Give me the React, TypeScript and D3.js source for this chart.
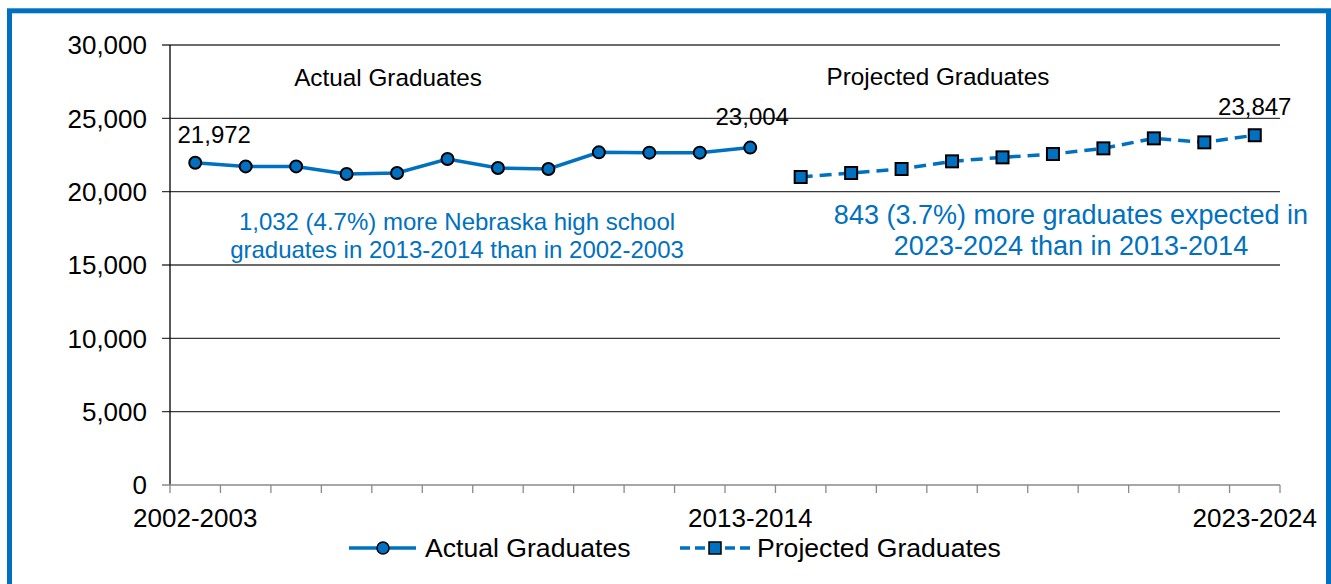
import React from "react";
import * as d3 from "d3";

const categories = [
  "2002-2003", "2003-2004", "2004-2005", "2005-2006", "2006-2007", "2007-2008",
  "2008-2009", "2009-2010", "2010-2011", "2011-2012", "2012-2013", "2013-2014",
  "2014-2015", "2015-2016", "2016-2017", "2017-2018", "2018-2019", "2019-2020",
  "2020-2021", "2021-2022", "2022-2023", "2023-2024",
];
const actualValues = [21972, 21722, 21722, 21204, 21272, 22226, 21613, 21545, 22680, 22660, 22660, 23004];
const projectedValues = [21000, 21272, 21545, 22068, 22340, 22567, 22953, 23635, 23362, 23847];
const yTicks = [0, 5000, 10000, 15000, 20000, 25000, 30000];
const xLabelCats = ["2002-2003", "2013-2014", "2023-2024"];
const labeledPoints = ["2002-2003", "2013-2014", "2023-2024"];
const leftNote = ["1,032 (4.7%) more Nebraska high school", "graduates in 2013-2014 than in 2002-2003"];
const rightNote = ["843 (3.7%) more graduates expected in", "2023-2024 than in 2013-2014"];

const BLUE = "#0070C0";
const FONT = "'Liberation Sans', Arial, sans-serif";

export default function App() {
  const W = 1331, H = 584;
  const left = 170, right = 1280, top = 45, bottom = 485;
  const x = d3.scaleBand<string>().domain(categories).range([left, right]).padding(0);
  const y = d3.scaleLinear().domain([0, 30000]).range([bottom, top]);
  const cx = (c: string) => (x(c) as number) + x.bandwidth() / 2;

  const actual = actualValues.map((v, i) => ({ c: categories[i], v }));
  const projected = projectedValues.map((v, i) => ({ c: categories[actualValues.length + i], v }));
  const all = [...actual, ...projected];

  const line = d3.line<{ c: string; v: number }>().x((d) => cx(d.c)).y((d) => y(d.v));
  const fmt = d3.format(",");
  const boundaries = categories.map((c) => x(c) as number).concat([right]);

  const labelDx: Record<string, number> = { "2002-2003": 19, "2013-2014": 2, "2023-2024": 0 };
  const labelDy: Record<string, number> = { "2002-2003": -20, "2013-2014": -23, "2023-2024": -20 };

  return (
    <svg width={W} height={H} style={{ position: "fixed", left: 0, top: 0, background: "#fff" }} fontFamily={FONT}>
      <rect x={0} y={0} width={W} height={H} fill="#fff" />
      {/* gridlines */}
      {yTicks.filter((t) => t > 0).map((t) => (
        <line key={t} x1={left - 8} x2={right} y1={y(t)} y2={y(t)} stroke="#3a3a3a" strokeWidth={1.3} />
      ))}
      {/* y axis */}
      <line x1={left} x2={left} y1={top} y2={bottom} stroke="#000" strokeWidth={1.3} />
      {/* x axis */}
      <line x1={left - 8} x2={right} y1={bottom} y2={bottom} stroke="#8a8a8a" strokeWidth={1.5} />
      {boundaries.map((b, i) => (
        <line key={i} x1={b} x2={b} y1={bottom} y2={bottom + 8} stroke="#8a8a8a" strokeWidth={1.3} />
      ))}
      {yTicks.map((t) => (
        <text key={t} x={147} y={y(t)} dy="0.36em" textAnchor="end" fontSize={26} fill="#000">
          {fmt(t)}
        </text>
      ))}
      {xLabelCats.map((c) => (
        <text key={c} x={cx(c)} y={527} textAnchor="middle" fontSize={26} fill="#000">
          {c}
        </text>
      ))}
      {/* section headers */}
      <text x={388} y={86} textAnchor="middle" fontSize={24.3} fill="#000">Actual Graduates</text>
      <text x={938} y={85} textAnchor="middle" fontSize={24.3} fill="#000">Projected Graduates</text>
      {/* notes */}
      {leftNote.map((t, i) => (
        <text key={t} x={457} y={230 + i * 27.5} textAnchor="middle" fontSize={24} fill={BLUE}>{t}</text>
      ))}
      {rightNote.map((t, i) => (
        <text key={t} x={1071} y={224 + i * 31} textAnchor="middle" fontSize={27} fill={BLUE}>{t}</text>
      ))}
      {/* lines */}
      <path d={line(actual) as string} fill="none" stroke={BLUE} strokeWidth={3.5} />
      <path d={line(projected) as string} fill="none" stroke={BLUE} strokeWidth={3.5} strokeDasharray="12,7" />
      {actual.map((d) => (
        <circle key={d.c} cx={cx(d.c)} cy={y(d.v)} r={6} fill={BLUE} stroke="#000" strokeWidth={2} />
      ))}
      {projected.map((d) => (
        <rect key={d.c} x={cx(d.c) - 6} y={y(d.v) - 6} width={12} height={12} fill={BLUE} stroke="#000" strokeWidth={2} />
      ))}
      {all.filter((d) => labeledPoints.includes(d.c)).map((d) => (
        <text key={d.c} x={cx(d.c) + labelDx[d.c]} y={y(d.v) + labelDy[d.c]} textAnchor="middle" fontSize={24} fill="#000">
          {fmt(d.v)}
        </text>
      ))}
      {/* legend */}
      <line x1={349} x2={416} y1={548} y2={548} stroke={BLUE} strokeWidth={3.5} />
      <circle cx={383} cy={548} r={6} fill={BLUE} stroke="#000" strokeWidth={1.5} />
      <text x={425} y={557} fontSize={26.6} fill="#000">Actual Graduates</text>
      <line x1={680} x2={750} y1={548} y2={548} stroke={BLUE} strokeWidth={3.5} strokeDasharray="10,5" />
      <rect x={709} y={542} width={12} height={12} fill={BLUE} stroke="#000" strokeWidth={1.5} />
      <text x={757} y={557} fontSize={26.6} fill="#000">Projected Graduates</text>
      {/* frame */}
      <rect x={9.5} y={10.8} width={1319} height={600} fill="none" stroke={BLUE} strokeWidth={5} />
    </svg>
  );
}
